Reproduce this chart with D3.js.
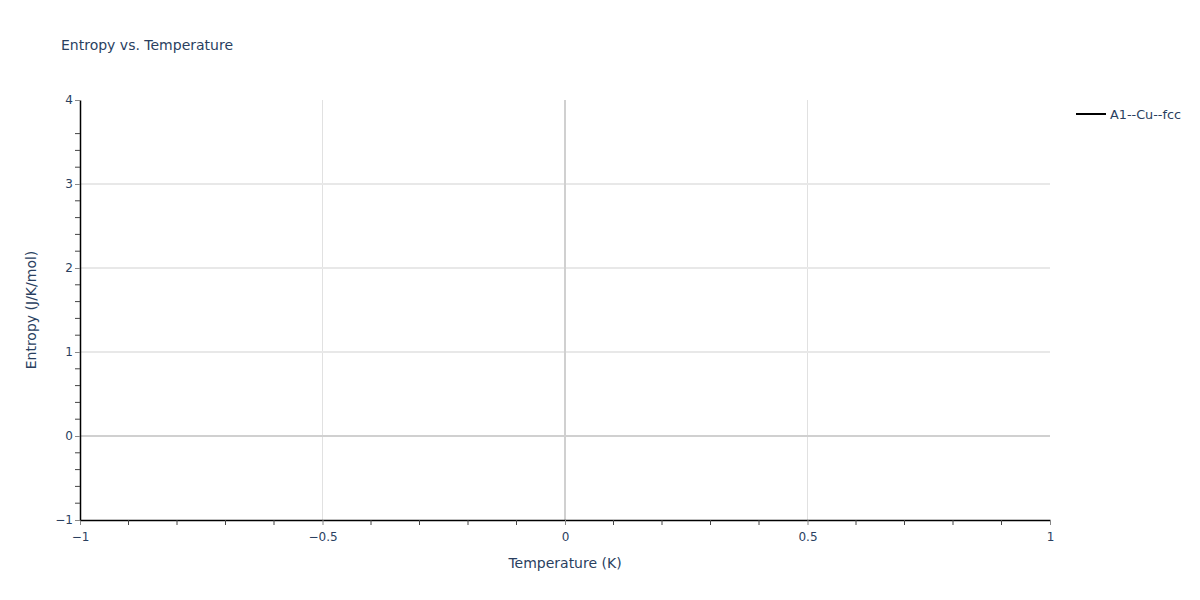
<!DOCTYPE html>
<html>
<head>
<meta charset="utf-8">
<script src="https://cdn.jsdelivr.net/npm/d3@7"></script>
<style>
  body { margin: 0; background: #fff; }
  text { font-family: "DejaVu Sans", Verdana, Arial, sans-serif; }
</style>
</head>
<body>
<svg width="1200" height="600"></svg>
<script>
const width = 1200;
const height = 600;

// series (the trace carries no visible points)
const seriesNames = ["A1--Cu--fcc"];
const seriesColors = ["#000000"];
const temperature = [];
const entropy = [];

const xTicks = [-1, -0.5, 0, 0.5, 1];
const yTicks = [-1, 0, 1, 2, 3, 4];

const margin = { left: 80, right: 150, top: 100, bottom: 80 };
const plotW = width - margin.left - margin.right;
const plotH = height - margin.top - margin.bottom;

const svg = d3.select("svg");

const x = d3.scaleLinear().domain([-1, 1]).range([margin.left, margin.left + plotW]);
const y = d3.scaleLinear().domain([-1, 4]).range([margin.top + plotH, margin.top]);

const textColor = "#2a3f5f";
const inner = v => v !== 0 && v !== x.domain()[0] && v !== x.domain()[1];
const innerY = v => v !== 0 && v !== y.domain()[0] && v !== y.domain()[1];

// grid lines
const grid = svg.append("g");
grid.selectAll("line.gx")
    .data(xTicks.filter(inner))
    .enter().append("line")
    .attr("x1", d => x(d)).attr("x2", d => x(d))
    .attr("y1", margin.top).attr("y2", margin.top + plotH)
    .attr("stroke", "#e1e1e1").attr("stroke-width", 1);
grid.selectAll("line.gy")
    .data(yTicks.filter(innerY))
    .enter().append("line")
    .attr("x1", margin.left).attr("x2", margin.left + plotW)
    .attr("y1", d => y(d)).attr("y2", d => y(d))
    .attr("stroke", "#e8e8e8").attr("stroke-width", 2);

// zero lines
grid.append("line")
    .attr("x1", x(0)).attr("x2", x(0))
    .attr("y1", margin.top).attr("y2", margin.top + plotH)
    .attr("stroke", "#d0d0d0").attr("stroke-width", 2);
grid.append("line")
    .attr("x1", margin.left).attr("x2", margin.left + plotW)
    .attr("y1", y(0)).attr("y2", y(0))
    .attr("stroke", "#d0d0d0").attr("stroke-width", 2);

// series line (empty)
const line = d3.line().x(d => x(d[0])).y(d => y(d[1]));
svg.append("path")
    .datum(d3.zip(temperature, entropy))
    .attr("fill", "none")
    .attr("stroke", seriesColors[0])
    .attr("stroke-width", 2)
    .attr("d", line);

// x axis: major ticks
const xAxis = svg.append("g")
    .attr("transform", `translate(0,${margin.top + plotH})`)
    .call(d3.axisBottom(x).tickValues(xTicks).tickSize(5).tickSizeOuter(0)
        .tickFormat(d => d3.format("")(d).replace("-", "\u2212")));
xAxis.select(".domain").attr("stroke", "#000").attr("stroke-width", 1.5);
xAxis.selectAll(".tick line").attr("stroke", "#888");
xAxis.selectAll(".tick text").attr("fill", textColor).attr("font-size", 12).attr("dy", "1.1em");

// x minor ticks
svg.append("g").selectAll("line")
    .data(d3.range(-9, 10).map(i => i / 10).filter(d => Math.abs(d * 2 - Math.round(d * 2)) > 1e-9))
    .enter().append("line")
    .attr("x1", d => x(d)).attr("x2", d => x(d))
    .attr("y1", margin.top + plotH).attr("y2", margin.top + plotH + 5)
    .attr("stroke", "#444");

// y axis: major ticks
const yAxis = svg.append("g")
    .attr("transform", `translate(${margin.left},0)`)
    .call(d3.axisLeft(y).tickValues(yTicks).tickSize(5).tickSizeOuter(0)
        .tickFormat(d => d3.format("")(d).replace("-", "\u2212")));
yAxis.select(".domain").attr("stroke", "#000").attr("stroke-width", 1.5);
yAxis.selectAll(".tick line").attr("stroke", "#888");
yAxis.selectAll(".tick text").attr("fill", textColor).attr("font-size", 12).attr("x", -7);

// y minor ticks
svg.append("g").selectAll("line")
    .data(d3.range(-4, 20).map(i => i / 5 - 0.2).filter(d => Math.abs(d - Math.round(d)) > 1e-9 && d > -1 && d < 4))
    .enter().append("line")
    .attr("x1", margin.left - 5).attr("x2", margin.left)
    .attr("y1", d => y(d)).attr("y2", d => y(d))
    .attr("stroke", "#444");

// titles
svg.append("text")
    .attr("x", 61).attr("y", 50)
    .attr("fill", textColor).attr("font-size", 14)
    .text("Entropy vs. Temperature");

svg.append("text")
    .attr("x", margin.left + plotW / 2).attr("y", 568)
    .attr("text-anchor", "middle")
    .attr("fill", textColor).attr("font-size", 14)
    .text("Temperature (K)");

svg.append("text")
    .attr("transform", `translate(36,${margin.top + plotH / 2}) rotate(-90)`)
    .attr("text-anchor", "middle")
    .attr("fill", textColor).attr("font-size", 14)
    .text("Entropy (J/K/mol)");

// legend
const legend = svg.append("g").attr("transform", "translate(1076,114)");
legend.selectAll("g")
    .data(seriesNames)
    .enter().append("g")
    .each(function (d, i) {
        const g = d3.select(this).attr("transform", `translate(0,${i * 19})`);
        g.append("line")
            .attr("x1", 0).attr("x2", 30)
            .attr("stroke", seriesColors[i]).attr("stroke-width", 2);
        g.append("text")
            .attr("x", 34).attr("y", 4.5)
            .attr("fill", textColor).attr("font-size", 12.8)
            .text(d);
    });
</script>
</body>
</html>
